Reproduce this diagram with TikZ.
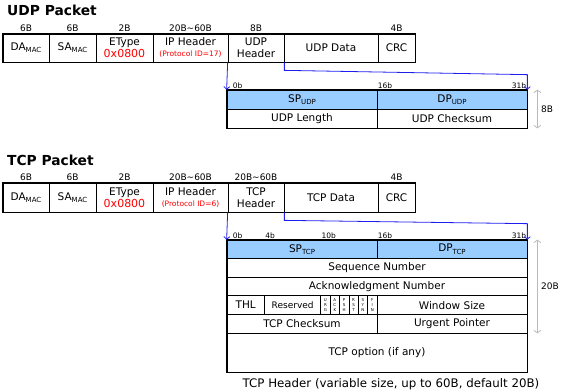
\documentclass[tikz,border=0pt]{standalone}
\usepackage{fontspec}
\setmainfont{DejaVu Sans}
\usetikzlibrary{arrows.meta}
\definecolor{fieldblue}{RGB}{153,204,255}
\definecolor{linkblue}{RGB}{30,30,240}
\definecolor{sizegray}{RGB}{185,185,185}
\newcommand{\lowtxt}[1]{\raisebox{-0.4ex}{\fontsize{7}{8}\selectfont #1}}
\begin{document}
\begin{tikzpicture}[x=1pt, y=-1pt,
	cell/.style={draw, line width=0.7pt, inner sep=0pt, align=center, font=\fontsize{10.5}{12}\selectfont},
	field/.style={cell, minimum height=19pt},
	flag/.style={cell, minimum width=9.375pt, minimum height=18.6pt, font=\fontsize{4}{4.6}\selectfont},
	frame/.style={line width=1.6pt},
	tframe/.style={line width=1.1pt},
	szlabel/.style={font=\fontsize{9}{10}\selectfont, anchor=south, inner sep=1.5pt},
	tick/.style={font=\fontsize{7.5}{9}\selectfont, inner sep=1pt, anchor=south west},
	title/.style={font=\bfseries\fontsize{13.8}{16}\selectfont, anchor=west, inner sep=0pt},
	hdrlink/.style={linkblue, line width=0.8pt, -{Straight Barb[length=2.5pt,width=6pt]}},
	sizearrow/.style={sizegray, line width=0.8pt, {Straight Barb[length=2.5pt,width=7pt]}-{Straight Barb[length=2.5pt,width=7pt]}},
	sizetext/.style={right, text=black, font=\fontsize{9}{10}\selectfont}]
	\useasboundingbox (0,0) rectangle (562,389);

	\node [title] (udptitle) at (7,10) {UDP Packet};
	\node [cell, minimum width=46pt, minimum height=28pt] (uda) at (26,48) {DA\lowtxt{MAC}};
	\node [cell, minimum width=47pt, minimum height=28pt] (usa) at (72.5,48) {SA\lowtxt{MAC}};
	\node [cell, minimum width=57pt, minimum height=28pt] (uet) at (124.5,48) {EType\\{\fontsize{11}{12}\selectfont\color{red}0x0800}};
	\node [cell, minimum width=75pt, minimum height=28pt] (uip) at (190.5,48) {IP Header\\[-1pt]{\fontsize{7.5}{9}\selectfont\color{red}(Protocol ID=17)}};
	\node [cell, minimum width=56pt, minimum height=28pt] (uhdr) at (256,48) {UDP\\Header};
	\node [cell, minimum width=94pt, minimum height=28pt] (udata) at (331,48) {UDP Data};
	\node [cell, minimum width=37pt, minimum height=28pt] (ucrc) at (396.5,48) {CRC};
	\draw [frame] (uda.north west) rectangle (ucrc.south east);
	\foreach \n/\s in {uda/6B, usa/6B, uet/2B, uip/20B\textasciitilde 60B, uhdr/8B, ucrc/4B}
		\node [szlabel] (s\n) at (\n.north) {\s};

	\node [field, fill=fieldblue, minimum width=150pt] (usp) at (302,99.5) {SP\lowtxt{UDP}};
	\node [field, fill=fieldblue, minimum width=150pt] (udp) at (452,99.5) {DP\lowtxt{UDP}};
	\node [field, minimum width=150pt] (ulen) at (302,118.5) {UDP Length};
	\node [field, minimum width=150pt] (ucks) at (452,118.5) {UDP Checksum};
	\draw [tframe] (usp.north west) rectangle (ucks.south east);
	\node [tick] (ub0) at ([xshift=5pt]usp.north west) {0b};
	\node [tick] (ub16) at (udp.north west) {16b};
	\node [tick, anchor=south east] (ub31) at (udp.north east) {31b};
	\draw [hdrlink] (uhdr.south west) -- (usp.north west);
	\draw [hdrlink] (uhdr.south east) -- ++(0,8) -- ([yshift=15pt]udp.north east) -- (udp.north east);
	\draw [sizearrow] ([xshift=10pt]udp.north east) -- ([xshift=10pt]ucks.south east) node [midway, sizetext] (u8b) {8B};

	\node [title] (tcptitle) at (7,160) {TCP Packet};
	\node [cell, minimum width=46pt, minimum height=29pt] (tda) at (26,197.5) {DA\lowtxt{MAC}};
	\node [cell, minimum width=47pt, minimum height=29pt] (tsa) at (72.5,197.5) {SA\lowtxt{MAC}};
	\node [cell, minimum width=57pt, minimum height=29pt] (tet) at (124.5,197.5) {EType\\{\fontsize{11}{12}\selectfont\color{red}0x0800}};
	\node [cell, minimum width=75pt, minimum height=29pt] (tip) at (190.5,197.5) {IP Header\\[-1pt]{\fontsize{7.5}{9}\selectfont\color{red}(Protocol ID=6)}};
	\node [cell, minimum width=56pt, minimum height=29pt] (thdr) at (256,197.5) {TCP\\Header};
	\node [cell, minimum width=94pt, minimum height=29pt] (tdata) at (331,197.5) {TCP Data};
	\node [cell, minimum width=37pt, minimum height=29pt] (tcrc) at (396.5,197.5) {CRC};
	\draw [frame] (tda.north west) rectangle (tcrc.south east);
	\foreach \n/\s in {tda/6B, tsa/6B, tet/2B, tip/20B\textasciitilde 60B, thdr/20B\textasciitilde 60B, tcrc/4B}
		\node [szlabel] (s\n) at (\n.north) {\s};

	\node [field, fill=fieldblue, minimum width=150pt, minimum height=18.6pt] (tsp) at (302,249.3) {SP\lowtxt{TCP}};
	\node [field, fill=fieldblue, minimum width=150pt, minimum height=18.6pt] (tdp) at (452,249.3) {DP\lowtxt{TCP}};
	\node [field, minimum width=300pt, minimum height=18.6pt] (tseq) at (377,267.9) {Sequence Number};
	\node [field, minimum width=300pt, minimum height=18.6pt] (tack) at (377,286.5) {Acknowledgment Number};
	\node [field, minimum width=37.5pt, minimum height=18.6pt] (tthl) at (245.75,305.1) {THL};
	\node [field, minimum width=56.25pt, minimum height=18.6pt, font=\fontsize{9}{10}\selectfont] (tres) at (292.625,305.1) {Reserved};
	\foreach \a/\b/\c [count=\i from 0] in {U/R/G, A/C/K, P/S/H, R/S/T, S/Y/N, F/I/N}
		\node [flag] (tf\i) at ({325.4375+9.375*\i},305.1) {\a\\\b\\\c};
	\node [field, minimum width=150pt, minimum height=18.6pt] (twin) at (452,305.1) {Window Size};
	\node [field, minimum width=150pt, minimum height=18.6pt] (tcks) at (302,323.7) {TCP Checksum};
	\node [field, minimum width=150pt, minimum height=18.6pt] (turg) at (452,323.7) {Urgent Pointer};
	\node [field, minimum width=300pt, minimum height=39pt] (topt) at (377,352.5) {TCP option (if any)};
	\draw [tframe] (tsp.north west) rectangle (topt.south east);
	\node [tick] (tb0) at ([xshift=5pt]tsp.north west) {0b};
	\node [tick] (tb4) at (tres.north west |- tsp.north) {4b};
	\node [tick] (tb10) at (tf0.north west |- tsp.north) {10b};
	\node [tick] (tb16) at (tdp.north west) {16b};
	\node [tick, anchor=south east] (tb31) at (tdp.north east) {31b};
	\draw [hdrlink] (thdr.south west) -- (tsp.north west);
	\draw [hdrlink] (thdr.south east) -- ++(0,8) -- ([yshift=16pt]tdp.north east) -- (tdp.north east);
	\draw [sizearrow] ([xshift=10pt]tdp.north east) -- ([xshift=10pt]turg.south east) node [midway, sizetext] (t20b) {20B};
	\node [font=\fontsize{11.8}{13}\selectfont] (tcap) at (391,384) {TCP Header (variable size, up to 60B, default 20B)};
\end{tikzpicture}
\end{document}
